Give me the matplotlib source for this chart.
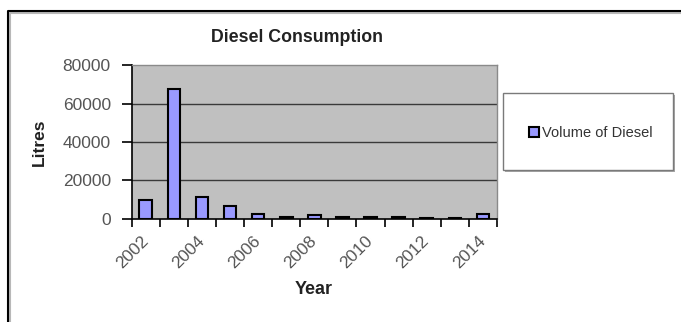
import matplotlib.pyplot as plt
import numpy as np
from matplotlib.lines import Line2D
from matplotlib.patches import Rectangle

plt.rcParams['font.family'] = ['Liberation Sans', 'DejaVu Sans']

years = ['2002', '2003', '2004', '2005', '2006', '2007', '2008',
         '2009', '2010', '2011', '2012', '2013', '2014']
diesel = [10000, 67500, 11500, 6500, 2500, 1000, 2000,
          1000, 1000, 1000, 500, 500, 2500]
yticks = [0, 20000, 40000, 60000, 80000]

fig = plt.figure(figsize=(6.81, 3.22), dpi=100)
ax = fig.add_axes([0.1934, 0.3199, 0.5364, 0.4782])

x = np.arange(len(years))
ax.set_facecolor('#c0c0c0')
ax.bar(x, diesel, width=0.45, color='#9999ff', edgecolor='black',
       linewidth=1.5, label='Volume of Diesel', zorder=3)

ax.set_ylim(0, 80000)
ax.set_xlim(-0.5, len(years) - 0.5)
ax.set_yticks(yticks)
ax.set_yticklabels([str(v) for v in yticks], fontsize=12.5)
for v in yticks[1:-1]:
    ax.axhline(v, color='#3a3a3a', lw=1.0, zorder=1)

# labels on every other year, tick marks between categories
ax.set_xticks(x[::2])
ax.set_xticklabels(years[::2], rotation=45, ha='right', va='center',
                   rotation_mode='anchor', fontsize=12.5)
ax.set_xticks(np.arange(-0.5, len(years)), minor=True)
ax.tick_params(axis='x', which='major', length=0, pad=14)
ax.tick_params(axis='x', which='minor', length=6, width=1.2, color='black')
ax.tick_params(axis='y', length=7, width=1.2, color='black', pad=8)
ax.tick_params(labelcolor='#555555')

for side in ['top', 'right']:
    ax.spines[side].set_color('#8a8a8a')
    ax.spines[side].set_linewidth(1.0)
for side in ['left', 'bottom']:
    ax.spines[side].set_color('black')
    ax.spines[side].set_linewidth(1.2)

fig.text(297 / 681, 1 - 38 / 322, 'Diesel Consumption', fontsize=12.8,
         fontweight='bold', color='#222222', ha='center', va='center')
fig.text(39 / 681, 1 - 142 / 322, 'Litres', fontsize=12.5,
         fontweight='bold', color='#222222', ha='center', va='center',
         rotation=90)
fig.text(314 / 681, 1 - 290 / 322, 'Year', fontsize=13,
         fontweight='bold', color='#222222', ha='center', va='center')

# legend box
fig.add_artist(Rectangle((505 / 681, 1 - 172 / 322), 170 / 681, 77 / 322,
                         transform=fig.transFigure, facecolor='#a8a8a8',
                         edgecolor='none'))
fig.add_artist(Rectangle((503 / 681, 1 - 170 / 322), 170 / 681, 77 / 322,
                         transform=fig.transFigure, facecolor='white',
                         edgecolor='#7a7a7a', linewidth=1.0))
fig.legend(loc='center', bbox_to_anchor=(591 / 681, 1 - 133 / 322),
           frameon=False, fontsize=10.5, handlelength=0.7, handleheight=0.7,
           handletextpad=0.2, labelcolor='#333333')

# outer chart frame
fig.add_artist(Line2D([9.5 / 681, 9.5 / 681, 1], [0, 1 - 12.5 / 322, 1 - 12.5 / 322],
                      transform=fig.transFigure, color='#b8b8b8', lw=1.5))
fig.add_artist(Line2D([8 / 681, 8 / 681, 1], [0, 1 - 11 / 322, 1 - 11 / 322],
                      transform=fig.transFigure, color='black', lw=1.5))

fig.savefig('out.png', dpi=100, facecolor='white')
